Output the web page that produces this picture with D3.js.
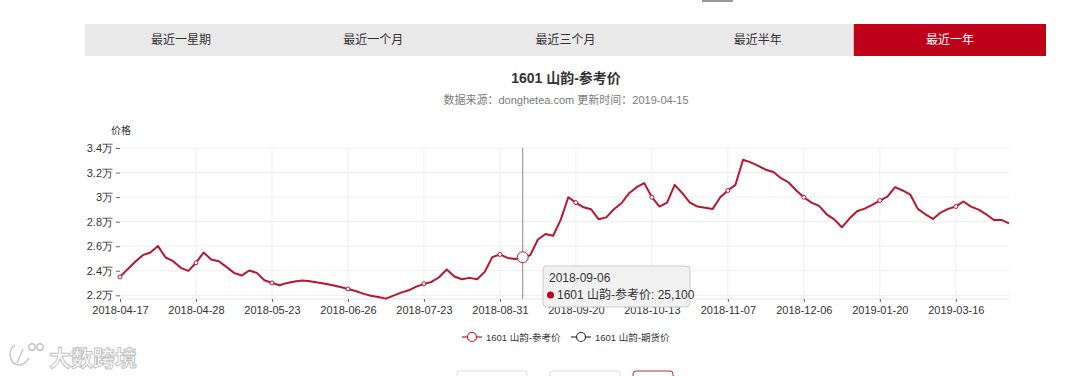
<!DOCTYPE html>
<html>
<head>
<meta charset="utf-8">
<script src="https://cdn.jsdelivr.net/npm/d3@7"></script>
<style>
  body { margin: 0; background: #fff; }
  svg { display: block; font-family: "Liberation Sans", "Noto Sans CJK SC", sans-serif; }
</style>
</head>
<body>
<script>
// tabs above the chart
const tabs = ["最近一星期", "最近一个月", "最近三个月", "最近半年", "最近一年"];
const activeTab = 4;

// reference price, one value per trading record (yuan)
const prices = [
  23500, 24130, 24730, 25270, 25490, 26010, 25080, 24780, 24240, 23990,
  24650, 25490, 24920, 24780, 24320, 23830, 23610, 24020, 23830, 23230,
  23010, 22820, 23010, 23120, 23200, 23150, 23040, 22950, 22820, 22680,
  22520, 22350, 22140, 21970, 21860, 21730, 21970, 22220, 22410, 22710,
  22930, 23090, 23470, 24100, 23530, 23310, 23420, 23310, 23910, 25110,
  25330, 25050, 24950, 25100, 25270, 26550, 26990, 26850, 28140, 29990,
  29550, 29170, 29010, 28190, 28350, 29010, 29500, 30320, 30810, 31140,
  29990, 29230, 29550, 31000, 30320, 29550, 29230, 29140, 29040, 29990,
  30540, 31000, 33040, 32830, 32550, 32230, 32040, 31540, 31190, 30540,
  29990, 29550, 29280, 28600, 28190, 27540, 28250, 28850, 29060, 29360,
  29720, 30040, 30810, 30540, 30210, 29040, 28600, 28220, 28740, 29040,
  29230, 29640, 29230, 28980, 28600, 28140, 28140, 27860
];

// x tick labels, shown every 10th record
const tickLabels = ["2018-04-17", "2018-04-28", "2018-05-23", "2018-06-26", "2018-07-23", "2018-08-31",
                    "2018-09-20", "2018-10-13", "2018-11-07", "2018-12-06", "2019-01-20", "2019-03-16"];
const tickEvery = 10;
const yTicks = [22000, 24000, 26000, 28000, 30000, 32000, 34000];
const yMin = 21700, yMax = 34000;

// hovered record
const hoverIndex = 53;
const hoverDate = "2018-09-06";

const seriesNames = ["1601 山韵-参考价", "1601 山韵-期货价"];
const title = "1601 山韵-参考价";
const subtitle = "数据来源：donghetea.com 更新时间：2019-04-15";

const width = 1080, height = 376;
const red = "#b8162c";
const plot = {left: 120, right: 1009, top: 148, bottom: 299};

const svg = d3.select("body").append("svg")
              .attr("width", width)
              .attr("height", height);

// little grey mark at the top edge
svg.append("rect").attr("x", 702).attr("y", 0).attr("width", 31).attr("height", 2).attr("fill", "#999");

// tab bar
const tabX = d3.scaleBand().domain(d3.range(tabs.length)).range([85, 1046]);
svg.append("rect").attr("x", 85).attr("y", 24).attr("width", 961).attr("height", 32).attr("fill", "#e9e9e9");
const tabG = svg.append("g").selectAll("g").data(tabs).join("g")
                .attr("transform", (d, i) => "translate(" + tabX(i) + ",24)");
tabG.filter((d, i) => i == activeTab).append("rect")
    .attr("width", tabX.bandwidth())
    .attr("height", 32)
    .attr("fill", "#bf0019");
tabG.append("text")
    .attr("x", tabX.bandwidth() / 2)
    .attr("y", 20)
    .attr("text-anchor", "middle")
    .style("font-size", "12px")
    .attr("fill", (d, i) => i == activeTab ? "#fff" : "#333")
    .text(d => d);

// titles
svg.append("text").attr("x", 566).attr("y", 83).attr("text-anchor", "middle")
   .style("font-size", "14px").style("font-weight", "bold").attr("fill", "#333").text(title);
svg.append("text").attr("x", 566).attr("y", 104).attr("text-anchor", "middle")
   .style("font-size", "11px").attr("fill", "#7a7a7a").text(subtitle);

// scales
const x = d3.scalePoint().domain(d3.range(prices.length)).range([plot.left, plot.right]);
const y = d3.scaleLinear().domain([yMin, yMax]).range([plot.bottom, plot.top]);
const tickIdx = tickLabels.map((d, i) => i * tickEvery);

// grid
svg.append("g").selectAll("line").data(yTicks).join("line")
   .attr("x1", plot.left).attr("x2", plot.right)
   .attr("y1", d => y(d)).attr("y2", d => y(d))
   .attr("stroke", "#eee");
svg.append("g").selectAll("line").data(tickIdx.slice(1)).join("line")
   .attr("x1", d => x(d)).attr("x2", d => x(d))
   .attr("y1", plot.top).attr("y2", plot.bottom)
   .attr("stroke", "#eee");
svg.append("line").attr("x1", plot.left).attr("x2", plot.right)
   .attr("y1", plot.bottom).attr("y2", plot.bottom).attr("stroke", "#e4e4e4");

// axes
const yAxis = d3.axisLeft(y).tickValues(yTicks).tickSize(4).tickPadding(3)
                .tickFormat(d => (d / 10000) + "万");
const gy = svg.append("g").attr("transform", "translate(" + (plot.left) + ",0)").call(yAxis);
gy.select(".domain").remove();
gy.selectAll("line").attr("stroke", "#666");
gy.selectAll("text").style("font-size", "11px").attr("fill", "#333");

const xAxis = d3.axisBottom(x).tickValues(tickIdx).tickSize(3).tickPadding(4)
                .tickFormat((d, i) => tickLabels[i]);
const gx = svg.append("g").attr("transform", "translate(0," + plot.bottom + ")").call(xAxis);
gx.select(".domain").remove();
gx.selectAll("line").attr("stroke", "#666");
gx.selectAll("text").style("font-size", "11px").attr("fill", "#333");

svg.append("text").attr("x", 121).attr("y", 134).attr("text-anchor", "middle")
   .style("font-size", "10px").attr("fill", "#333").text("价格");

// hover line
svg.append("line")
   .attr("x1", x(hoverIndex)).attr("x2", x(hoverIndex))
   .attr("y1", plot.top).attr("y2", plot.bottom)
   .attr("stroke", "#888").attr("stroke-width", 1);

// series line
const line = d3.line().x((d, i) => x(i)).y(d => y(d));
svg.append("path").attr("d", line(prices))
   .attr("fill", "none").attr("stroke", red).attr("stroke-width", 2)
   .attr("stroke-linejoin", "round");

// symbols on labelled records
svg.append("g").selectAll("circle").data(tickIdx).join("circle")
   .attr("cx", d => x(d)).attr("cy", d => y(prices[d])).attr("r", 2)
   .attr("fill", "#fff").attr("stroke", red).attr("stroke-width", 1);

// hovered point
svg.append("circle").attr("cx", x(hoverIndex)).attr("cy", y(prices[hoverIndex])).attr("r", 5.5)
   .attr("fill", "#fff").attr("stroke", red).attr("stroke-width", 1);

// tooltip
const tip = svg.append("g").attr("transform", "translate(543,266)");
tip.append("rect").attr("width", 147).attr("height", 41).attr("rx", 4)
   .attr("fill", "rgba(240,240,240,0.92)").attr("stroke", "#ccc");
tip.append("text").attr("x", 6).attr("y", 16).style("font-size", "12px").attr("fill", "#333").text(hoverDate);
tip.append("circle").attr("cx", 7.5).attr("cy", 29).attr("r", 3.5).attr("fill", "#bf0019");
tip.append("text").attr("x", 14).attr("y", 33).style("font-size", "12px").attr("fill", "#333")
   .text(seriesNames[0] + ": " + d3.format(",")(prices[hoverIndex]));

// legend
const legendX = [462, 571];
const legendColor = [red, "#333"];
const lg = svg.append("g").selectAll("g").data(seriesNames).join("g")
              .attr("transform", (d, i) => "translate(" + legendX[i] + ",337)");
lg.append("line").attr("x1", 0).attr("x2", 20).attr("stroke", (d, i) => legendColor[i]).attr("stroke-width", 1.2);
lg.append("circle").attr("cx", 10).attr("r", 4.5).attr("fill", "#fff")
  .attr("stroke", (d, i) => legendColor[i]).attr("stroke-width", 1.2);
lg.append("text").attr("x", 24).attr("y", 3.5).style("font-size", "9.5px").attr("fill", "#333").text(d => d);

// watermark
const wm = svg.append("g").attr("fill", "#fff").attr("stroke", "#c4c4c4").attr("stroke-width", 1.4);
wm.append("path").attr("d", "M15,345 C7,351 9,365 20,365 C25,365 27,361 29,358 M23,349 L17,363")
  .attr("fill", "none");
wm.append("circle").attr("cx", 32).attr("cy", 347).attr("r", 3.2);
wm.append("circle").attr("cx", 40).attr("cy", 347).attr("r", 3.2);
wm.append("text").attr("x", 49).attr("y", 366).style("font-size", "22px").style("font-weight", "bold")
  .attr("stroke-width", 1).text("大数跨境");

// buttons peeking at the bottom
const btns = [[457, 70, "#ddd"], [550, 70, "#ddd"], [633, 40, "#a33"]];
svg.append("g").selectAll("rect").data(btns).join("rect")
   .attr("x", d => d[0]).attr("y", 371).attr("width", d => d[1]).attr("height", 20).attr("rx", 3)
   .attr("fill", "#fff").attr("stroke", d => d[2]);
</script>
</body>
</html>
